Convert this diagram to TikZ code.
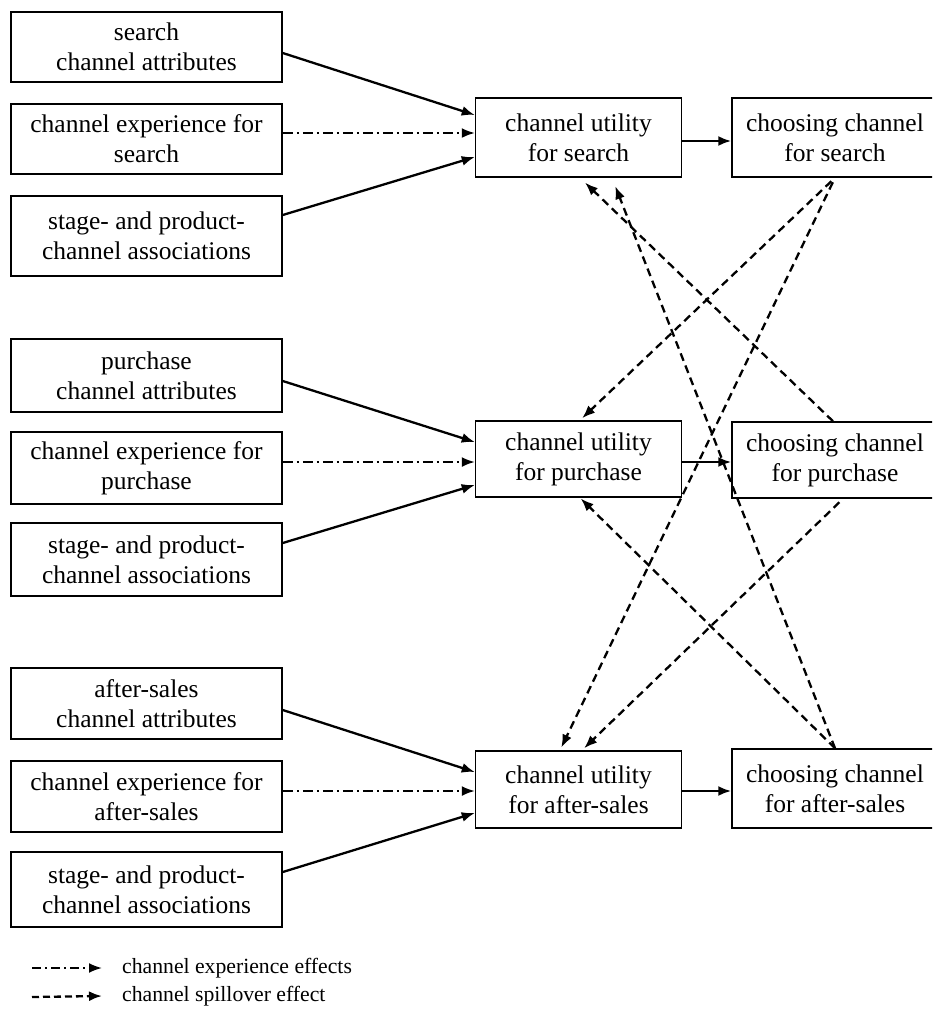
\documentclass[tikz,border=0pt]{standalone}
\usepackage{fontspec}
\setmainfont{Liberation Serif}
\usetikzlibrary{arrows.meta}
\begin{document}
\begin{tikzpicture}[x=1pt,y=-1pt,
  box/.style={draw,line width=1.5pt,align=center,inner sep=0pt,font=\fontsize{25.5}{30}\selectfont},
  lbox/.style={box,minimum width=271pt},
  ubox/.style={box,minimum width=206pt},
  tip/.style={-{Latex[length=13pt,width=10pt]}},
  sol/.style={tip,line width=2.3pt},
  dd/.style={tip,line width=1.8pt,dash pattern=on 10pt off 4pt on 2pt off 4pt},
  spill/.style={tip,line width=2.3pt,dash pattern=on 8pt off 5pt},
  legtext/.style={anchor=west,inner sep=0pt,font=\fontsize{21.7}{26}\selectfont}]
\useasboundingbox (0,0) rectangle (932,1012);
\fill[white] (0,0) rectangle (932,1012);
\clip (0,0) rectangle (932,1012);

% left boxes
\node[lbox,minimum height=70pt] (a1) at (146.5,47) {search\\channel attributes};
\node[lbox,minimum height=70pt] (a2) at (146.5,139) {channel experience for\\search};
\node[lbox,minimum height=80pt] (a3) at (146.5,236) {stage- and product-\\channel associations};
\node[lbox,minimum height=73pt] (p1) at (146.5,375.5) {purchase\\channel attributes};
\node[lbox,minimum height=72pt] (p2) at (146.5,468) {channel experience for\\purchase};
\node[lbox,minimum height=73pt] (p3) at (146.5,559.5) {stage- and product-\\channel associations};
\node[lbox,minimum height=71pt] (s1) at (146.5,703.5) {after-sales\\channel attributes};
\node[lbox,minimum height=71pt] (s2) at (146.5,796.5) {channel experience for\\after-sales};
\node[lbox,minimum height=75pt] (s3) at (146.5,889.5) {stage- and product-\\channel associations};

% utility boxes
\node[ubox,minimum height=79pt] (us) at (578.5,137.5) {channel utility\\for search};
\node[ubox,minimum height=76pt] (up) at (578.5,459) {channel utility\\for purchase};
\node[ubox,minimum height=77pt] (ua) at (578.5,789.5) {channel utility\\for after-sales};

% choosing boxes
\node[ubox,minimum height=79pt] (cs) at (835,137.5) {choosing channel\\for search};
\node[ubox,minimum height=76pt] (cp) at (835,460) {choosing channel\\for purchase};
\node[ubox,minimum height=79pt] (ca) at (835,788.5) {choosing channel\\for after-sales};

% inputs search
\draw[sol] ([yshift=-6pt]a1.east) -- ([yshift=22.5pt]us.west);
\draw[dd]  ([yshift=6pt]a2.east) -- ([yshift=4.5pt]us.west);
\draw[sol] ([yshift=21pt]a3.east) -- ([yshift=-19.5pt]us.west);
% inputs purchase
\draw[sol] ([yshift=-5.5pt]p1.east) -- ([yshift=17pt]up.west);
\draw[dd]  ([yshift=6pt]p2.east) -- ([yshift=-3pt]up.west);
\draw[sol] ([yshift=16.5pt]p3.east) -- ([yshift=-26pt]up.west);
% inputs after-sales
\draw[sol] ([yshift=-6.5pt]s1.east) -- ([yshift=17.5pt]ua.west);
\draw[dd]  ([yshift=5.5pt]s2.east) -- ([yshift=-1.5pt]ua.west);
\draw[sol] ([yshift=17.5pt]s3.east) -- ([yshift=-23.5pt]ua.west);

% utility -> choosing
\draw[sol] ([yshift=-3.5pt]us.east) -- ([yshift=-3.5pt]cs.west);
\draw[sol] ([yshift=-3pt]up.east) -- ([yshift=-2pt]cp.west);
\draw[sol] ([yshift=-1.5pt]ua.east) -- ([yshift=-2.5pt]ca.west);

% spillover
\draw[spill,shorten <=5pt,shorten >=3pt] (cs.south) -- ([xshift=1.5pt]up.north);
\draw[spill,shorten <=5pt,shorten >=3pt] (cs.south) -- ([xshift=-18.5pt]ua.north);
\draw[spill,shorten >=7pt] ([xshift=-2pt]cp.north) -- ([xshift=1.5pt]us.south);
\draw[spill,shorten >=9pt] (ca.north) -- ([xshift=33.5pt]us.south);
\draw[spill,shorten >=1pt] (ca.north) -- ([xshift=1.5pt]up.south);
\draw[spill,shorten <=5pt,shorten >=3pt] ([xshift=8pt]cp.south) -- ([xshift=3.5pt]ua.north);

% legend
\node[legtext] (l1) at (122,968) {channel experience effects};
\node[legtext] (l2) at (122,996) {channel spillover effect};
\coordinate (l1a) at (32,968);
\coordinate (l2a) at (32,997);
\draw[dd,line width=2pt,dash pattern=on 9pt off 4pt on 2pt off 4pt] (l1a) -- ([xshift=-20pt]l1.west);
\draw[spill,dash pattern=on 7pt off 4pt] (l2a) -- ([xshift=-20pt]l2.west);
\end{tikzpicture}
\end{document}
